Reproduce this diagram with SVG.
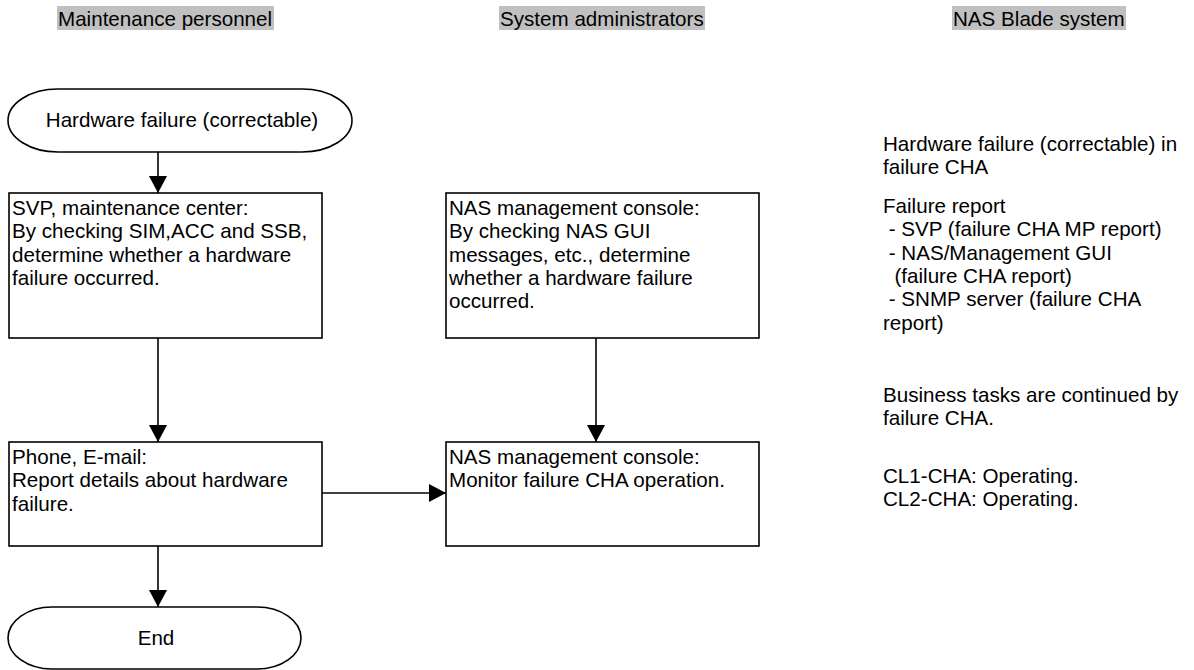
<svg xmlns="http://www.w3.org/2000/svg" width="1194" height="670" viewBox="0 0 1194 670">
<style>
text{font-family:"Liberation Sans",Arial,sans-serif;font-size:20.6px;fill:#000}
.shape{fill:#fff;stroke:#000;stroke-width:1.6}
.hdr{fill:#c0c0c0}
.conn{stroke:#000;stroke-width:1.6;fill:none}
.mid{text-anchor:middle}
.pre{white-space:pre}
</style>
<defs>
<marker id="arr" markerUnits="userSpaceOnUse" markerWidth="18" markerHeight="18" refX="17" refY="9" orient="auto">
<path d="M0,0 L17,9 L0,18 Z" fill="#000"/>
</marker>
</defs>
<rect width="1194" height="670" fill="#fff"/>
<g id="headers">
<rect class="hdr" x="57" y="6" width="217" height="24"/>
<text x="58" y="26">Maintenance personnel</text>
<rect class="hdr" x="499" y="6" width="206" height="24"/>
<text x="500" y="26">System administrators</text>
<rect class="hdr" x="952" y="6" width="174" height="24"/>
<text x="953" y="26">NAS Blade system</text>
</g>
<g id="connectors">
<line class="conn" x1="158" y1="152" x2="158" y2="193" marker-end="url(#arr)"/>
<line class="conn" x1="158" y1="338" x2="158" y2="442" marker-end="url(#arr)"/>
<line class="conn" x1="596" y1="338" x2="596" y2="442" marker-end="url(#arr)"/>
<line class="conn" x1="322" y1="493" x2="446" y2="493" marker-end="url(#arr)"/>
<line class="conn" x1="158" y1="546" x2="158" y2="607" marker-end="url(#arr)"/>
</g>
<g id="start">
<path class="shape" d="M58,89 H302 A50,31.5 0 0 1 302,152 H58 A50,31.5 0 0 1 58,89 Z"/>
<text class="mid" x="182" y="127">Hardware failure (correctable)</text>
</g>
<g id="svp">
<rect class="shape" x="9" y="193" width="313" height="145"/>
<text x="12" y="215">SVP, maintenance center:</text>
<text x="12" y="238.3">By checking SIM,ACC and SSB,</text>
<text x="12" y="261.6">determine whether a hardware</text>
<text x="12" y="284.9">failure occurred.</text>
</g>
<g id="nas1">
<rect class="shape" x="446" y="193" width="313" height="145"/>
<text x="449" y="215">NAS management console:</text>
<text x="449" y="238.3">By checking NAS GUI</text>
<text x="449" y="261.6">messages, etc., determine</text>
<text x="449" y="284.9">whether a hardware failure</text>
<text x="449" y="308.2">occurred.</text>
</g>
<g id="phone">
<rect class="shape" x="9" y="442" width="313" height="104"/>
<text x="12" y="464">Phone, E-mail:</text>
<text x="12" y="487.3">Report details about hardware</text>
<text x="12" y="510.6">failure.</text>
</g>
<g id="nas2">
<rect class="shape" x="446" y="442" width="313" height="104"/>
<text x="449" y="464">NAS management console:</text>
<text x="449" y="487.3">Monitor failure CHA operation.</text>
</g>
<g id="end">
<path class="shape" d="M52,607 H257 A44,31 0 0 1 257,669 H52 A44,31 0 0 1 52,607 Z"/>
<text class="mid" x="156" y="645">End</text>
</g>
<g id="nasblade">
<text x="883" y="150.5">Hardware failure (correctable) in</text>
<text x="883" y="173.8">failure CHA</text>
<text x="883" y="213">Failure report</text>
<text class="pre" xml:space="preserve" x="883" y="236.3"> - SVP (failure CHA MP report)</text>
<text class="pre" xml:space="preserve" x="883" y="259.6"> - NAS/Management GUI</text>
<text class="pre" xml:space="preserve" x="883" y="282.9">  (failure CHA report)</text>
<text class="pre" xml:space="preserve" x="883" y="306.2"> - SNMP server (failure CHA</text>
<text x="883" y="329.5">report)</text>
<text x="883" y="401.7">Business tasks are continued by</text>
<text x="883" y="425">failure CHA.</text>
<text x="883" y="483">CL1-CHA: Operating.</text>
<text x="883" y="506.3">CL2-CHA: Operating.</text>
</g>
</svg>
